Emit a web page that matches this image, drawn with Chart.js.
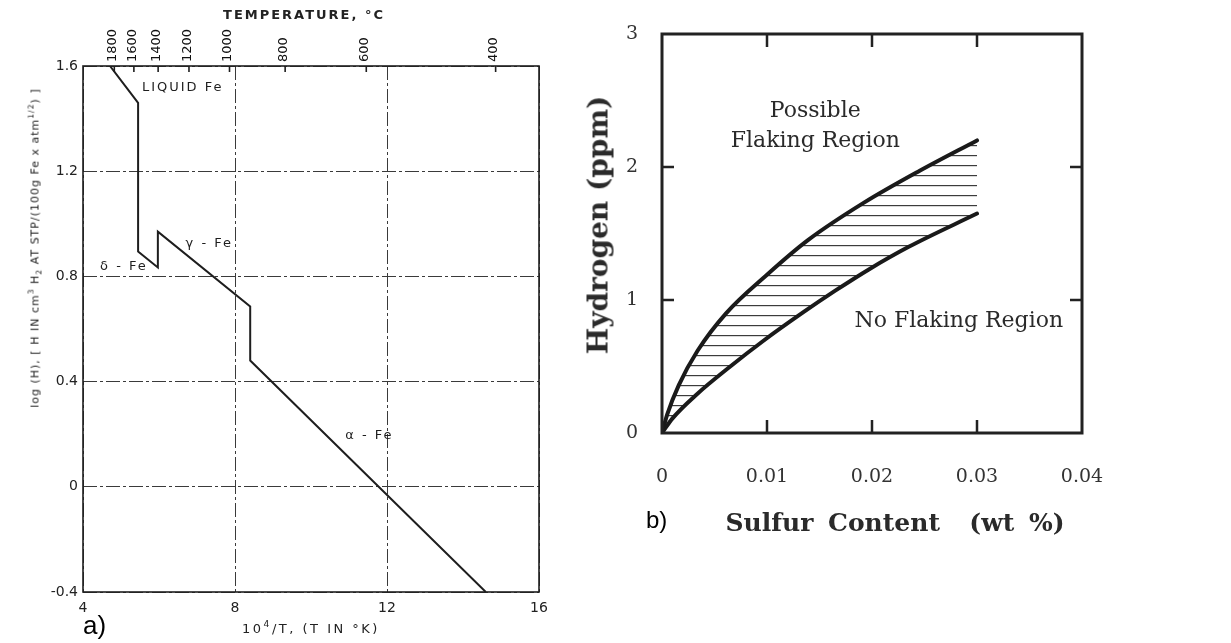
<!DOCTYPE html>
<html>
<head>
<meta charset="utf-8">
<script src="https://cdn.jsdelivr.net/npm/chart.js@4.4.1/dist/chart.umd.min.js"></script>
<style>
  body { margin: 0; background: #fff; }
  #page { position: relative; width: 1231px; height: 643px; overflow: hidden; background: #fff; }
  .box { position: absolute; top: 0; height: 643px; }
  .txt { position: absolute; white-space: nowrap; color: #222; line-height: 1; }
  .rot { transform: translate(-50%, -50%) rotate(-90deg); }
  .ctr { transform: translate(-50%, -50%); }
  sup, sub { font-size: 0.7em; line-height: 0; }
</style>
</head>
<body>
<div id="page">
  <div class="box" style="left:0;width:590px"><canvas id="chartA"></canvas></div>
  <div class="box" style="left:590px;width:641px"><canvas id="chartB"></canvas></div>

  <!-- a) labels -->
  <div class="txt ctr" style="left:304px;top:14px;font:bold 13px 'DejaVu Sans';letter-spacing:2px">TEMPERATURE, °C</div>
  <div class="txt rot" style="left:35px;top:248px;font:11px 'DejaVu Sans';letter-spacing:1px">log (H), [ H IN cm<sup>3</sup> H<sub>2</sub> AT STP/(100g Fe x atm<sup>1/2</sup>) ]</div>
  <div class="txt ctr" style="left:311px;top:628px;font:13px 'DejaVu Sans';letter-spacing:2.5px">10<sup>4</sup>/T, (T IN °K)</div>
  <div class="txt" style="left:83px;top:610px;font:26px 'Liberation Sans';color:#000">a)</div>

  <!-- b) labels -->
  <div class="txt rot" style="left:598px;top:225px;font:bold 28px 'DejaVu Serif';color:#2a2a2a">Hydrogen (ppm)</div>
  <div class="txt ctr" style="left:895px;top:522px;font:bold 25px 'DejaVu Serif';color:#2a2a2a;word-spacing:6px">Sulfur Content&nbsp; (wt %)</div>
  <div class="txt" style="left:646px;top:506px;font:24px 'Liberation Sans';color:#000">b)</div>
</div>

<script>
// ---- a) hydrogen solubility in iron ----
const invT = [4.71, 5.45, 5.45, 5.97, 5.97, 8.4, 8.4, 14.6];
const logH = [1.6, 1.46, 0.895, 0.834, 0.97, 0.686, 0.48, -0.4];
const tempTicksC = [1800, 1600, 1400, 1200, 1000, 800, 600, 400];
const phaseNames = ['LIQUID Fe', 'δ - Fe', 'γ - Fe', 'α - Fe'];

// ---- b) flaking diagram ----
const sulfurUpper = [0, 0.0005, 0.0016, 0.0034, 0.0061, 0.0100, 0.0139, 0.0192, 0.0245, 0.03];
const hydrogenUpper = [0, 0.14, 0.36, 0.62, 0.90, 1.19, 1.45, 1.73, 1.97, 2.2];
const sulfurLower = [0, 0.001, 0.0033, 0.0065, 0.0096, 0.0135, 0.0165, 0.0197, 0.0235, 0.03];
const hydrogenLower = [0, 0.11, 0.29, 0.50, 0.69, 0.91, 1.07, 1.23, 1.40, 1.65];
const regionNames = ['Possible', 'Flaking Region', 'No Flaking Region'];

// label anchors, in data units
const phaseAnchors = [
  { x: 5.55, y: 1.516 },
  { x: 4.45, y: 0.838 },
  { x: 6.7, y: 0.926 },
  { x: 10.9, y: 0.194 }
];
const regionAnchors = [
  { x: 0.0146, y: 2.42, align: 'center' },
  { x: 0.0146, y: 2.19, align: 'center' },
  { x: 0.0382, y: 0.84, align: 'right' }
];

function toPoints(xs, ys) {
  return xs.map((x, i) => ({ x: x, y: ys[i] }));
}

const frameA = {
  id: 'frameA',
  afterDraw(chart) {
    const { ctx, chartArea: a, scales } = chart;
    ctx.save();
    ctx.strokeStyle = '#1e1e1e';
    ctx.lineWidth = 1.6;
    ctx.strokeRect(a.left, a.top, a.right - a.left, a.bottom - a.top);
    // small inward ticks on the temperature axis
    scales.x2.ticks.forEach(t => {
      const px = scales.x2.getPixelForValue(t.value);
      ctx.beginPath();
      ctx.moveTo(px, a.top);
      ctx.lineTo(px, a.top + 6);
      ctx.stroke();
    });
    ctx.fillStyle = '#1e1e1e';
    ctx.font = '13px "DejaVu Sans"';
    ctx.letterSpacing = '2px';
    ctx.textBaseline = 'middle';
    ctx.textAlign = 'left';
    phaseNames.forEach((name, i) => {
      const p = phaseAnchors[i];
      ctx.fillText(name, scales.x.getPixelForValue(p.x), scales.y.getPixelForValue(p.y));
    });
    ctx.restore();
  }
};

new Chart(document.getElementById('chartA'), {
  type: 'line',
  data: {
    datasets: [{
      data: toPoints(invT, logH),
      borderColor: '#1e1e1e',
      borderWidth: 2,
      pointRadius: 0,
      tension: 0,
      fill: false
    }]
  },
  options: {
    responsive: true,
    maintainAspectRatio: false,
    animation: false,
    layout: { padding: { left: 0, right: 51, top: 0, bottom: 0 } },
    plugins: { legend: { display: false }, tooltip: { enabled: false } },
    scales: {
      x: {
        type: 'linear',
        min: 4, max: 16,
        afterFit: s => { s.height = 51; },
        grid: { color: '#3a3a3a', lineWidth: 1, drawTicks: false },
        border: { display: false, dash: [14, 3, 3, 3] },
        ticks: { stepSize: 4, padding: 8, color: '#222', font: { family: 'DejaVu Sans', size: 14 } }
      },
      x2: {
        type: 'linear',
        position: 'top',
        min: 4, max: 16,
        afterBuildTicks: s => { s.ticks = tempTicksC.map(t => ({ value: 1e4 / (t + 273) })); },
        afterFit: s => { s.height = 66; },
        grid: { drawOnChartArea: false, drawTicks: false },
        border: { display: false },
        ticks: {
          autoSkip: false, minRotation: 90, maxRotation: 90, padding: 4, labelOffset: 14,
          color: '#111', font: { family: 'DejaVu Sans', size: 13 },
          callback: (v, i) => String(tempTicksC[i])
        }
      },
      y: {
        type: 'linear',
        min: -0.4, max: 1.6,
        afterFit: s => { s.width = 83; },
        grid: { color: '#3a3a3a', lineWidth: 1, drawTicks: false },
        border: { display: false, dash: [14, 3, 3, 3] },
        ticks: {
          stepSize: 0.4, padding: 5, color: '#222', font: { family: 'DejaVu Sans', size: 14 },
          callback: v => Math.abs(v) < 1e-9 ? '0' : v.toFixed(1)
        }
      }
    }
  },
  plugins: [frameA]
});

// horizontal hatching for the band between the curves
function hatchPattern() {
  const c = document.createElement('canvas');
  c.width = 16; c.height = 10;
  const g = c.getContext('2d');
  g.fillStyle = '#3c3c3c';
  g.fillRect(0, 5, 16, 1.2);
  return g.createPattern(c, 'repeat');
}

const frameB = {
  id: 'frameB',
  afterDraw(chart) {
    const { ctx, chartArea: a, scales } = chart;
    ctx.save();
    ctx.strokeStyle = '#222';
    ctx.lineWidth = 3;
    ctx.strokeRect(a.left, a.top, a.right - a.left, a.bottom - a.top);
    ctx.lineWidth = 2.5;
    scales.x.ticks.forEach(t => {
      if (t.value <= 0 || t.value >= 0.04) return;
      const px = scales.x.getPixelForValue(t.value);
      ctx.beginPath();
      ctx.moveTo(px, a.bottom); ctx.lineTo(px, a.bottom - 13);
      ctx.moveTo(px, a.top); ctx.lineTo(px, a.top + 13);
      ctx.stroke();
    });
    scales.y.ticks.forEach(t => {
      if (t.value <= 0 || t.value >= 3) return;
      const py = scales.y.getPixelForValue(t.value);
      ctx.beginPath();
      ctx.moveTo(a.left, py); ctx.lineTo(a.left + 12, py);
      ctx.moveTo(a.right, py); ctx.lineTo(a.right - 12, py);
      ctx.stroke();
    });
    ctx.fillStyle = '#2a2a2a';
    ctx.font = '22px "DejaVu Serif"';
    ctx.textBaseline = 'middle';
    regionNames.forEach((name, i) => {
      const p = regionAnchors[i];
      ctx.textAlign = p.align;
      ctx.fillText(name, scales.x.getPixelForValue(p.x), scales.y.getPixelForValue(p.y));
    });
    ctx.restore();
  }
};

new Chart(document.getElementById('chartB'), {
  type: 'line',
  data: {
    datasets: [
      {
        data: toPoints(sulfurUpper, hydrogenUpper),
        borderColor: '#1a1a1a',
        borderWidth: 4,
        borderCapStyle: 'round',
        pointRadius: 0,
        cubicInterpolationMode: 'monotone',
        fill: false
      },
      {
        data: toPoints(sulfurLower, hydrogenLower),
        borderColor: '#1a1a1a',
        borderWidth: 4,
        borderCapStyle: 'round',
        pointRadius: 0,
        cubicInterpolationMode: 'monotone',
        fill: '-1',
        backgroundColor: hatchPattern()
      }
    ]
  },
  options: {
    responsive: true,
    maintainAspectRatio: false,
    animation: false,
    layout: { padding: { left: 0, right: 149, top: 34, bottom: 0 } },
    plugins: { legend: { display: false }, tooltip: { enabled: false } },
    scales: {
      x: {
        type: 'linear',
        min: 0, max: 0.04,
        afterFit: s => { s.height = 210; },
        grid: { display: false },
        border: { display: false },
        ticks: {
          stepSize: 0.01, padding: 25, color: '#333', font: { family: 'DejaVu Serif', size: 19 },
          callback: v => Math.abs(v) < 1e-12 ? '0' : v.toFixed(2)
        }
      },
      y: {
        type: 'linear',
        min: 0, max: 3,
        afterFit: s => { s.width = 72; },
        grid: { display: false },
        border: { display: false },
        ticks: { stepSize: 1, padding: 16, color: '#333', font: { family: 'DejaVu Serif', size: 19 } }
      }
    }
  },
  plugins: [frameB]
});
</script>
</body>
</html>
